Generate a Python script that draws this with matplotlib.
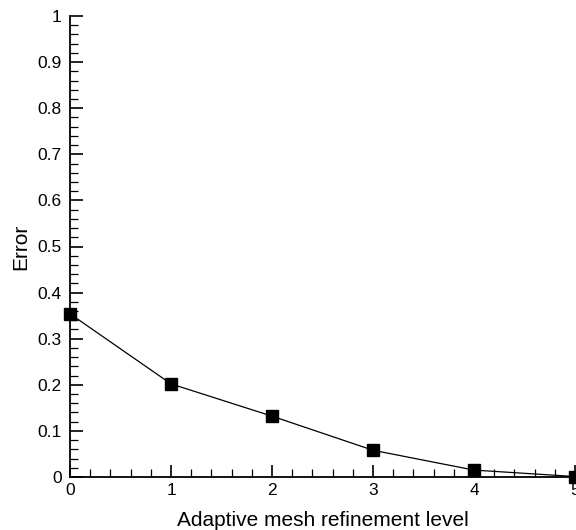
import numpy as np
from matplotlib import pyplot as plt
from matplotlib.ticker import MultipleLocator

plt.rcParams['font.family'] = ['Liberation Sans', 'DejaVu Sans']

# refinement level vs error
levels = [0, 1, 2, 3, 4, 5]
errors = [0.354, 0.202, 0.132, 0.058, 0.015, 0.001]
ytick_labels = ['0', '0.1', '0.2', '0.3', '0.4', '0.5', '0.6', '0.7', '0.8', '0.9', '1']

fig = plt.figure(figsize=(5.76, 5.30), dpi=100)
ax = fig.add_axes([70 / 576, 53 / 530, 505 / 576, 461 / 530])

ax.plot(levels, errors, color='black', linewidth=0.9, marker='s',
        markersize=8.5, markerfacecolor='black', markeredgecolor='black',
        clip_on=False, zorder=3)

ax.set_xlim(0, 5)
ax.set_ylim(0, 1)
ax.xaxis.set_major_locator(MultipleLocator(1))
ax.xaxis.set_minor_locator(MultipleLocator(0.2))
ax.yaxis.set_minor_locator(MultipleLocator(0.02))
ax.set_yticks(np.arange(0, 1.01, 0.1))
ax.set_yticklabels(ytick_labels)

for side in ['top', 'right']:
    ax.spines[side].set_visible(False)
for side in ['left', 'bottom']:
    ax.spines[side].set_linewidth(1.3)

ax.tick_params(which='major', direction='in', length=9, width=1.2, labelsize=12.5)
ax.tick_params(which='minor', direction='in', length=6, width=0.9)
ax.tick_params(axis='y', which='major', pad=6)
ax.tick_params(axis='x', which='major', pad=4)

ax.set_xlabel('Adaptive mesh refinement level', fontsize=15, labelpad=10)
ax.set_ylabel('Error', fontsize=15, labelpad=5)

fig.savefig('out.png', dpi=100)
